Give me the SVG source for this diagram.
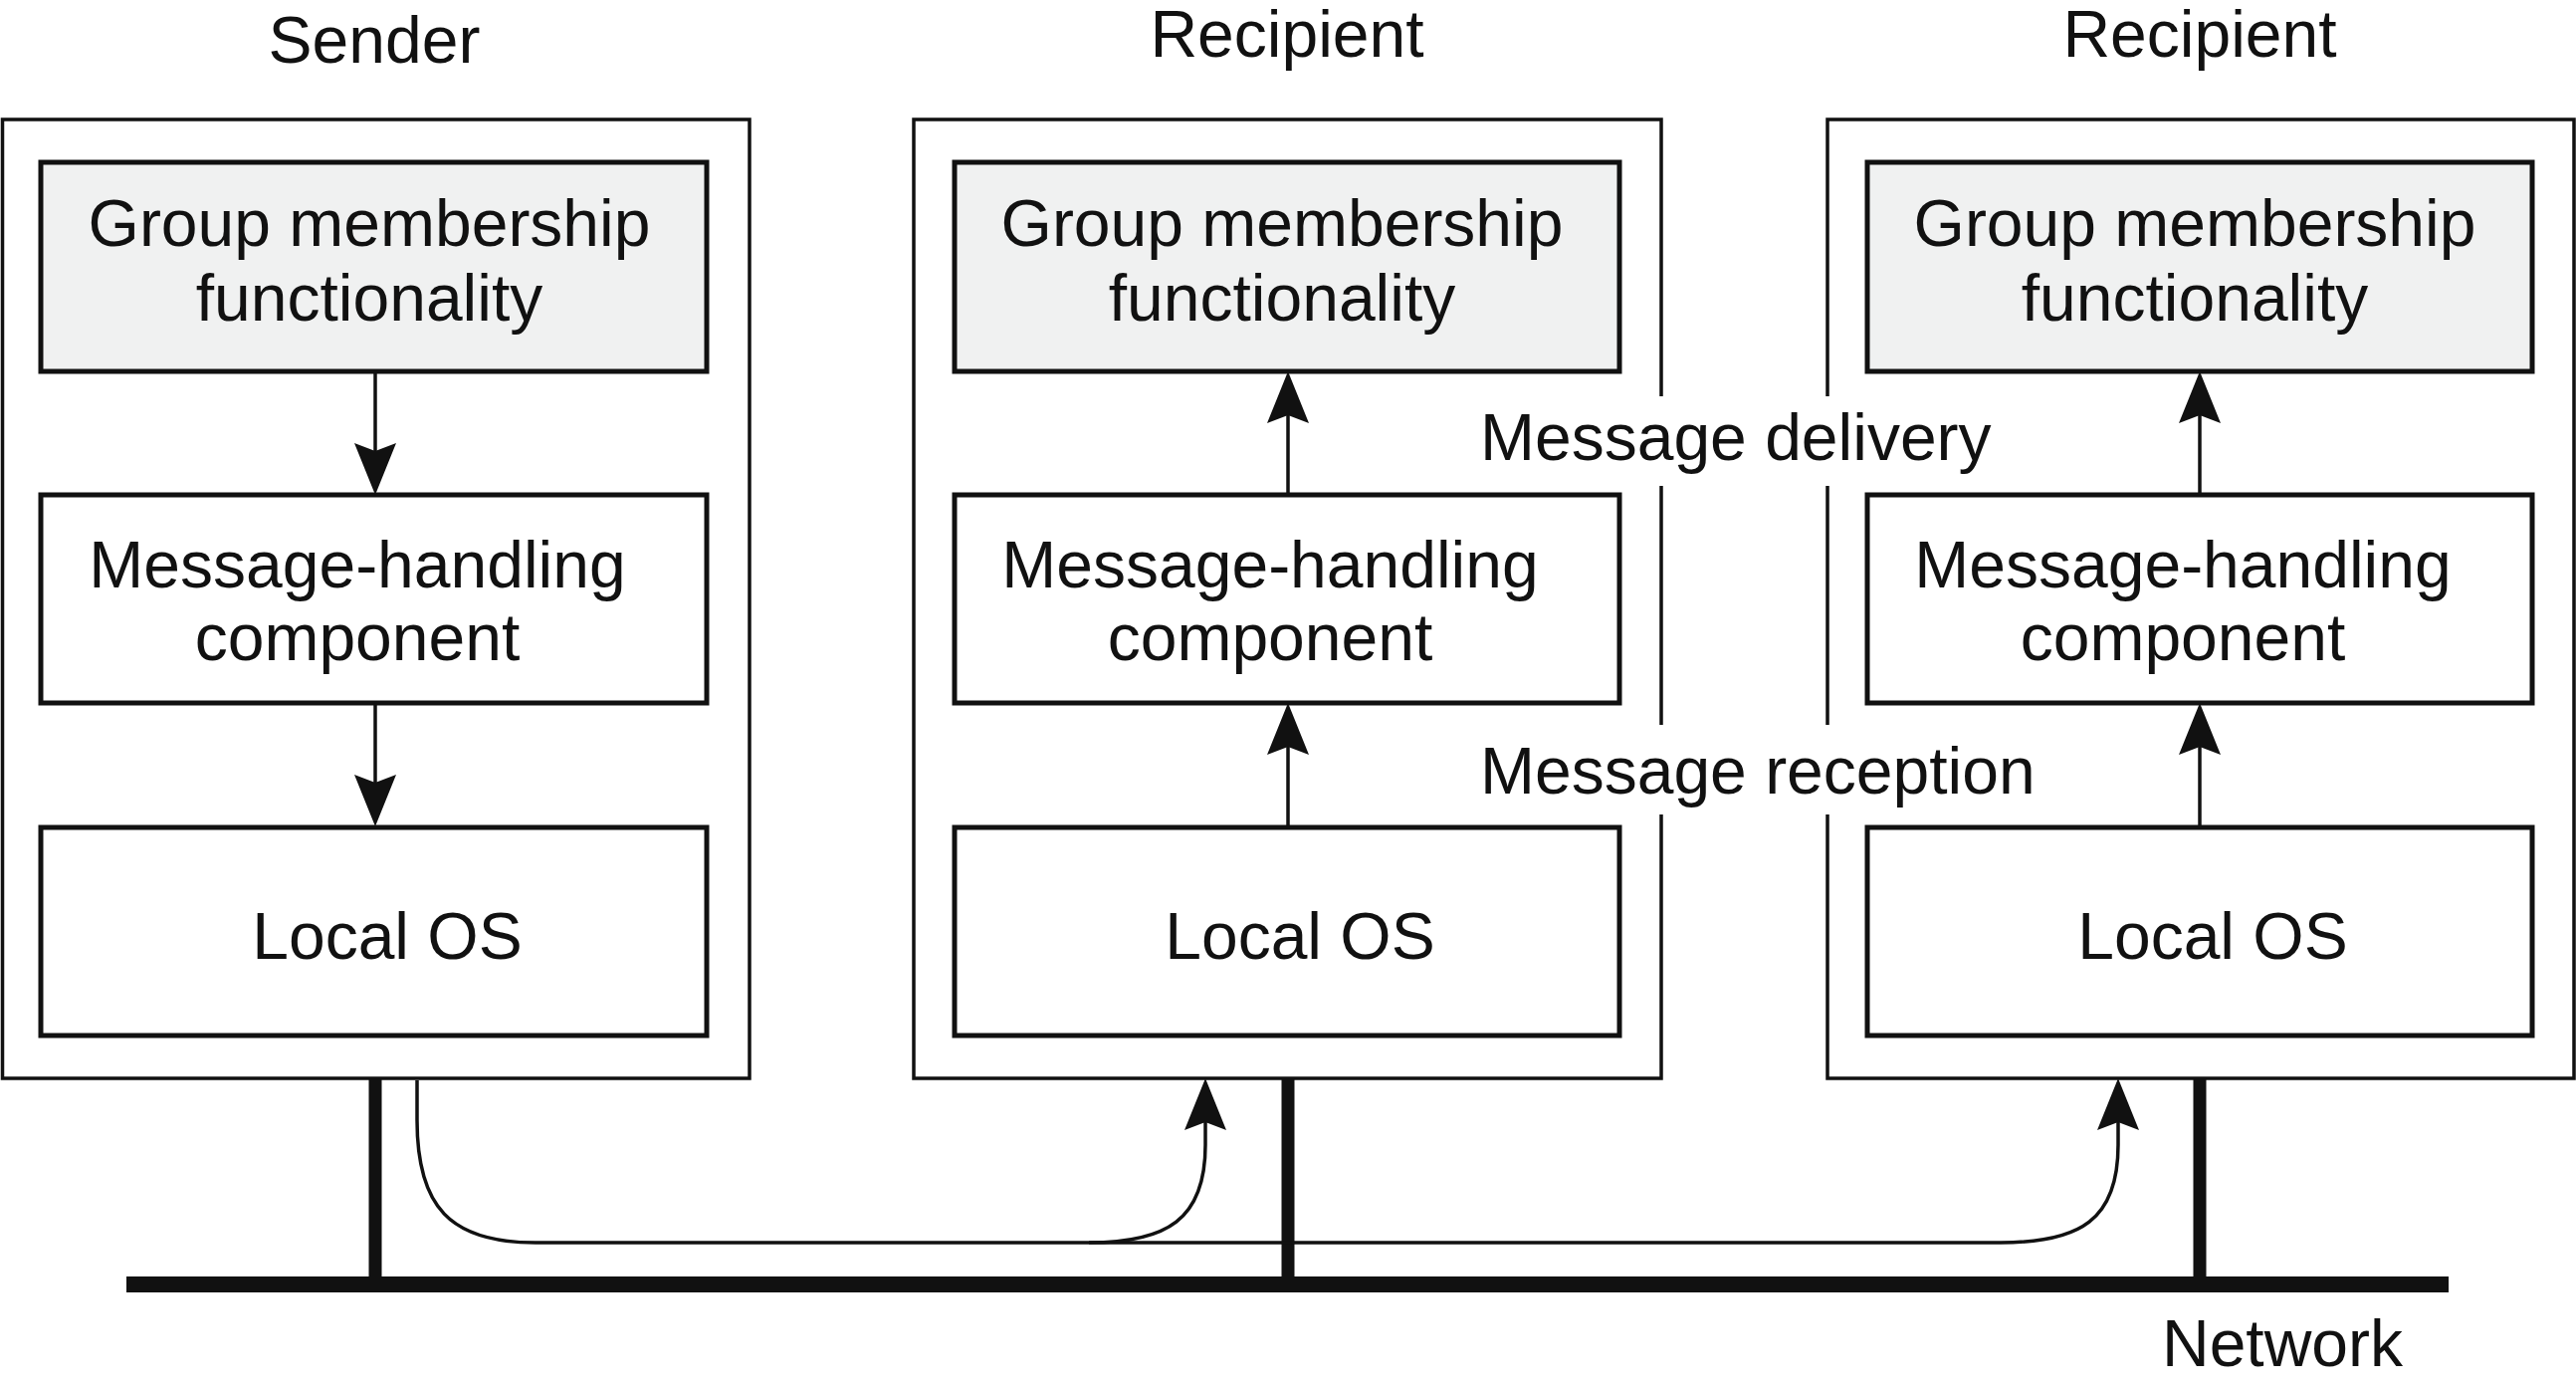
<svg xmlns="http://www.w3.org/2000/svg" width="2588" height="1394" viewBox="0 0 2588 1394">
<style>
text{font-family:"Liberation Sans",Arial,sans-serif;font-size:66px;fill:#111}
.c{text-anchor:middle}
.outer{fill:none;stroke:#111;stroke-width:3.5}
.inner{fill:#fff;stroke:#111;stroke-width:5}
.gray{fill:#f0f1f1}
.ln{fill:none;stroke:#111;stroke-width:3.5}
.bar{fill:none;stroke:#111}
</style>
<defs>
<marker id="ah" markerUnits="userSpaceOnUse" markerWidth="60" markerHeight="50" refX="0" refY="0" viewBox="-10 -25 60 50" orient="auto" overflow="visible">
<path d="M44,0 L-8,-21 L0,0 L-8,21 Z" fill="#111"/>
</marker>
</defs>
<rect width="2588" height="1394" fill="#fff"/>

<g id="sender">
<text class="c" x="376" y="63">Sender</text>
<rect class="outer" x="2.5" y="120" width="750.5" height="963"/>
</g>
<g id="recipient1">
<text class="c" x="1293" y="57">Recipient</text>
<path class="outer" d="M1669,398 V120 H918 V1083 H1669 V818 M1669,728 V488"/>
</g>
<g id="recipient2">
<text class="c" x="2210" y="57">Recipient</text>
<path class="outer" d="M1836,398 V120 H2586 V1083 H1836 V818 M1836,728 V488"/>
</g>

<g id="s-group"><rect class="inner gray" x="41" y="163" width="669" height="210"/>
<text class="c" x="371" y="247">Group membership</text><text class="c" x="371" y="322">functionality</text></g>
<g id="s-msg"><rect class="inner" x="41" y="497" width="669" height="209"/>
<text class="c" x="359" y="590">Message-handling</text><text class="c" x="359" y="663">component</text></g>
<g id="s-os"><rect class="inner" x="41" y="831" width="669" height="209"/>
<text class="c" x="389" y="963">Local OS</text></g>

<g id="r1-group"><rect class="inner gray" x="959" y="163" width="668" height="210"/>
<text class="c" x="1288" y="247">Group membership</text><text class="c" x="1288" y="322">functionality</text></g>
<g id="r1-msg"><rect class="inner" x="959" y="497" width="668" height="209"/>
<text class="c" x="1276" y="590">Message-handling</text><text class="c" x="1276" y="663">component</text></g>
<g id="r1-os"><rect class="inner" x="959" y="831" width="668" height="209"/>
<text class="c" x="1306" y="963">Local OS</text></g>

<g id="r2-group"><rect class="inner gray" x="1876" y="163" width="668" height="210"/>
<text class="c" x="2205" y="247">Group membership</text><text class="c" x="2205" y="322">functionality</text></g>
<g id="r2-msg"><rect class="inner" x="1876" y="497" width="668" height="209"/>
<text class="c" x="2193" y="590">Message-handling</text><text class="c" x="2193" y="663">component</text></g>
<g id="r2-os"><rect class="inner" x="1876" y="831" width="668" height="209"/>
<text class="c" x="2223" y="963">Local OS</text></g>

<g id="network">
<line class="bar" x1="127" y1="1290" x2="2460" y2="1290" stroke-width="16"/>
<text x="2172" y="1372">Network</text>
</g>

<g id="labels">
<text x="1487" y="462">Message delivery</text>
<text x="1487" y="797">Message reception</text>
</g>

<g id="connectors">
<line class="ln" x1="377" y1="375" x2="377" y2="453" marker-end="url(#ah)"/>
<line class="ln" x1="377" y1="708" x2="377" y2="786" marker-end="url(#ah)"/>
<line class="ln" x1="1294" y1="495" x2="1294" y2="417" marker-end="url(#ah)"/>
<line class="ln" x1="1294" y1="829" x2="1294" y2="750" marker-end="url(#ah)"/>
<line class="ln" x1="2210" y1="495" x2="2210" y2="417" marker-end="url(#ah)"/>
<line class="ln" x1="2210" y1="829" x2="2210" y2="750" marker-end="url(#ah)"/>
<line class="bar" x1="377" y1="1083" x2="377" y2="1284" stroke-width="13"/>
<line class="bar" x1="1294" y1="1083" x2="1294" y2="1284" stroke-width="13"/>
<line class="bar" x1="2210" y1="1083" x2="2210" y2="1284" stroke-width="13"/>
<path class="ln" d="M419,1085 V1125 C419,1212 452,1248 538,1248 H2010 C2090,1248 2128,1225 2128,1150 V1127" marker-end="url(#ah)"/>
<path class="ln" d="M1094,1248 C1172,1248 1211,1225 1211,1150 V1127" marker-end="url(#ah)"/>
</g>
</svg>
